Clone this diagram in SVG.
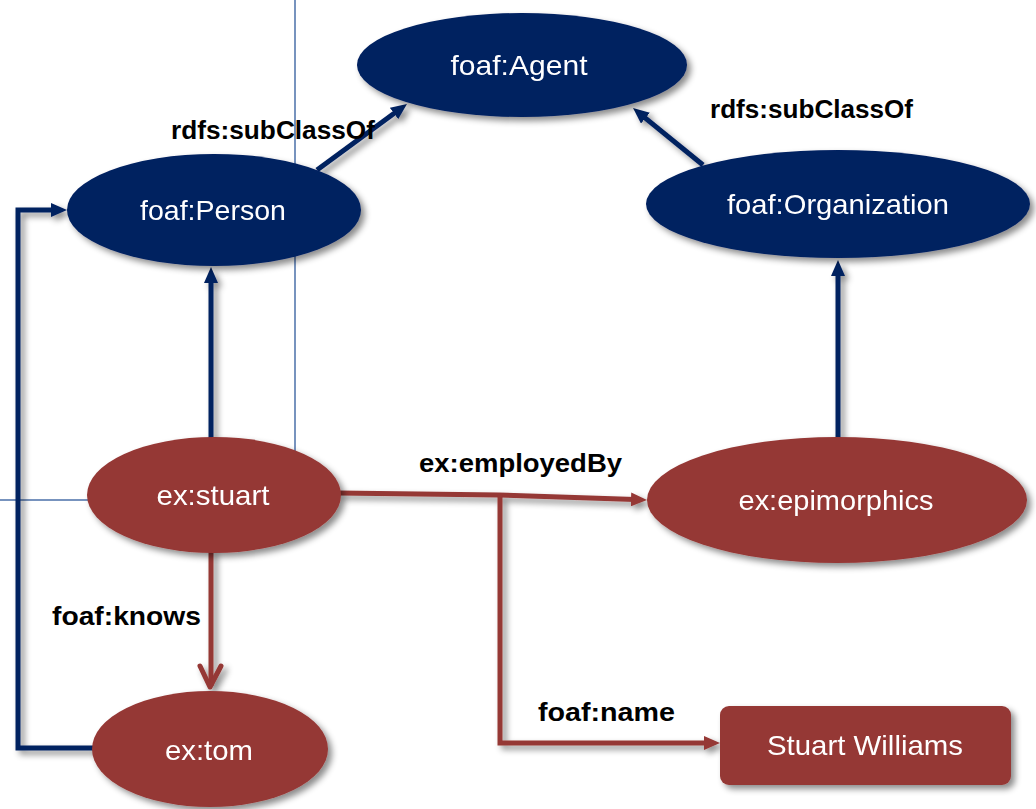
<svg xmlns="http://www.w3.org/2000/svg" width="1036" height="809" viewBox="0 0 1036 809">
<style>
.blue{fill:#002060}
.red{fill:#953735}
.nl{font-family:"Liberation Sans",Arial,sans-serif;font-size:28px;fill:#ffffff;text-anchor:middle}
.el{font-family:"Liberation Sans",Arial,sans-serif;font-size:26px;font-weight:bold;fill:#000000}
.cb{fill:none;stroke:#002060;stroke-width:5}
.cr{fill:none;stroke:#953735;stroke-width:5}
.thin{stroke:#4a6fa8;stroke-width:1.5;fill:none}
</style>
<defs>
<filter id="sh" x="-20%" y="-20%" width="150%" height="150%">
<feDropShadow dx="4" dy="4" stdDeviation="3" flood-color="#000" flood-opacity="0.45"/>
</filter>
<marker id="ab" viewBox="0 0 16 14" refX="4" refY="7" markerWidth="16" markerHeight="14" markerUnits="userSpaceOnUse" orient="auto">
<path d="M0,0 L16,7 L0,14 z" fill="#002060"/>
</marker>
<marker id="ar" viewBox="0 0 16 14" refX="4" refY="7" markerWidth="16" markerHeight="14" markerUnits="userSpaceOnUse" orient="auto">
<path d="M0,0 L16,7 L0,14 z" fill="#953735"/>
</marker>
</defs>
<rect width="1036" height="809" fill="#ffffff"/>
<g id="guides">
<line class="thin" x1="295" y1="0" x2="295" y2="455"/>
<line class="thin" x1="0" y1="500" x2="90" y2="500"/>
</g>
<g id="connectors" filter="url(#sh)">
<line class="cb" x1="317" y1="170" x2="397.3" y2="111.1" marker-end="url(#ab)"/>
<line class="cb" x1="703" y1="165" x2="642.3" y2="115.6" marker-end="url(#ab)"/>
<line class="cb" x1="211" y1="440" x2="211" y2="279" marker-end="url(#ab)"/>
<line class="cb" x1="838" y1="440" x2="838" y2="272" marker-end="url(#ab)"/>
<path class="cb" d="M95,748 L18,748 L18,210 L55,210" marker-end="url(#ab)"/>
<path class="cr" d="M338,493 L499,495 L635,499.6" marker-end="url(#ar)"/>
<path class="cr" d="M500,495 L500,743 L708,743" marker-end="url(#ar)"/>
<line class="cr" x1="211" y1="550" x2="211" y2="686"/>
<path class="cr" d="M200,666 L210,687 L221,666" stroke-linecap="round" stroke-linejoin="round"/>
</g>
<g id="labels">
<text class="el" x="171" y="139" textLength="204" lengthAdjust="spacingAndGlyphs">rdfs:subClassOf</text>
<text class="el" x="710" y="118" textLength="203" lengthAdjust="spacingAndGlyphs">rdfs:subClassOf</text>
<text class="el" x="419" y="472" textLength="203" lengthAdjust="spacingAndGlyphs">ex:employedBy</text>
<text class="el" x="52" y="625" textLength="149" lengthAdjust="spacingAndGlyphs">foaf:knows</text>
<text class="el" x="538" y="721" textLength="137" lengthAdjust="spacingAndGlyphs">foaf:name</text>
</g>
<g id="agent" filter="url(#sh)">
<ellipse class="blue" cx="522" cy="65" rx="165" ry="52"/>
<text class="nl" x="519" y="75" textLength="137" lengthAdjust="spacingAndGlyphs">foaf:Agent</text>
</g>
<g id="person" filter="url(#sh)">
<ellipse class="blue" cx="214" cy="210" rx="147" ry="56"/>
<text class="nl" x="213" y="220" textLength="146" lengthAdjust="spacingAndGlyphs">foaf:Person</text>
</g>
<g id="organization" filter="url(#sh)">
<ellipse class="blue" cx="838" cy="204" rx="192" ry="54"/>
<text class="nl" x="838" y="214" textLength="222" lengthAdjust="spacingAndGlyphs">foaf:Organization</text>
</g>
<g id="stuart" filter="url(#sh)">
<ellipse class="red" cx="214" cy="495" rx="127" ry="58"/>
<text class="nl" x="213" y="505" textLength="113" lengthAdjust="spacingAndGlyphs">ex:stuart</text>
</g>
<g id="epimorphics" filter="url(#sh)">
<ellipse class="red" cx="837" cy="500" rx="190" ry="63"/>
<text class="nl" x="836" y="510" textLength="195" lengthAdjust="spacingAndGlyphs">ex:epimorphics</text>
</g>
<g id="tom" filter="url(#sh)">
<ellipse class="red" cx="210" cy="749" rx="118" ry="58"/>
<text class="nl" x="209" y="760" textLength="88" lengthAdjust="spacingAndGlyphs">ex:tom</text>
</g>
<g id="stuartWilliams" filter="url(#sh)">
<rect class="red" x="720" y="706" width="291" height="79" rx="9"/>
<text class="nl" x="865" y="755" textLength="196" lengthAdjust="spacingAndGlyphs">Stuart Williams</text>
</g>
</svg>
